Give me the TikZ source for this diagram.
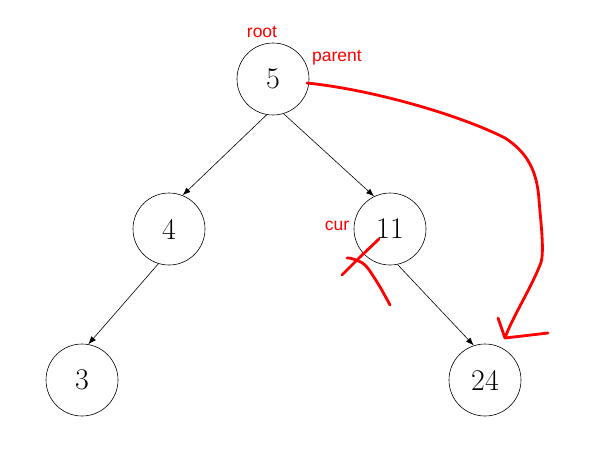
\documentclass[tikz,border=0pt]{standalone}
\usepackage{fontspec}
\newfontfamily\annfont{Liberation Sans}
\usetikzlibrary{arrows.meta}
\begin{document}
\begin{tikzpicture}[x=1pt,y=-1pt,
  treenode/.style={draw,circle,minimum size=72pt,inner sep=0pt,line width=0.6pt,font=\fontsize{30}{36}\selectfont},
  edge/.style={-{Latex[length=8pt,width=6pt]},line width=0.6pt},
  ann/.style={text=red,font=\annfont\fontsize{17.5}{20}\selectfont,inner sep=0pt,anchor=base},
  pen/.style={draw=red,line width=2.8pt,line cap=round,line join=round}]
\useasboundingbox (0,0) rectangle (607,472);
\node[treenode] (n5) at (273,79) {5};
\node[treenode] (n4) at (169,229) {4};
\node[treenode] (n11) at (390,229) {11};
\node[treenode] (n3) at (82,380) {3};
\node[treenode] (n24) at (485,380) {24};
\draw[edge] (n5.260) -- (n4.68);
\draw[edge] (n5.287) -- (n11.116);
\draw[edge] (n4.253) -- (n3.80);
\draw[edge] (n11.282) -- (n24.108);
\node[ann] (lroot) at (262,37) {root};
\node[ann] (lparent) at (337,61) {parent};
\node[ann] (lcur) at (337,230) {cur};
\coordinate (pstart) at (307,83);
\coordinate (ptip) at (505,338);
\draw[pen] (pstart) .. controls (375,90) and (462,116) .. (505,138)
  .. controls (525,151) and (537,168) .. (539,200)
  .. controls (541,225) and (545,255) .. (540,265)
  .. controls (530,290) and (512,318) .. (ptip);
\draw[pen] (498,318) -- (ptip) -- (548,333);
\draw[pen] (379,239) -- (360,257) -- (342,275);
\draw[pen] plot[smooth,tension=0.6] coordinates {(347,258) (353,259) (365,265) (377,282) (384,294) (390,305)};
\end{tikzpicture}
\end{document}
